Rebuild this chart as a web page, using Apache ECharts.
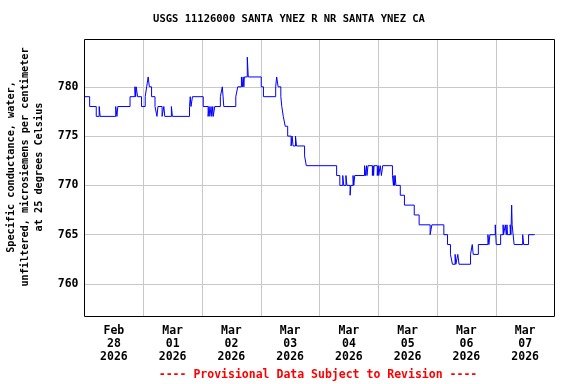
<!DOCTYPE html>
<html>
<head>
<meta charset="utf-8">
<script src="https://cdn.jsdelivr.net/npm/echarts@6/dist/echarts.min.js"></script>
<style>
html,body{margin:0;padding:0;background:#fff;}
#chart{width:576px;height:384px;}
</style>
</head>
<body>
<div id="chart"></div>
<script>
// Hours since 2026-02-28 00:00 at which the reading changes
const hours = [
  0, 2.1, 4.8, 6.0, 6.4, 12.75, 13.25, 13.6, 18.6, 20.6, 20.9, 21.1, 21.7, 23.3,
  24.8, 25.4, 26.0, 26.5, 27.4, 28.8, 29.6, 30.0, 31.7, 32.4, 32.8, 35.5, 35.9,
  42.9, 43.2, 43.5, 44.1, 48.5, 50.5, 50.9, 51.2, 51.7, 52.0, 52.4, 52.6, 53.2,
  55.5, 56.3, 56.9, 61.8, 62.6, 64.1, 64.5, 64.8, 65.1, 65.3, 66.5, 66.7, 66.9,
  72.2, 73.1, 78.1, 78.5, 79.1, 80.2, 80.6, 81.2, 82.0, 83.0, 84.4, 84.8, 85.2,
  86.2, 86.6, 89.9, 90.6, 103.0, 104.3, 105.5, 105.9, 106.8, 107.2, 108.5, 108.8,
  109.7, 110.0, 110.4, 114.4, 114.8, 115.2, 115.4, 115.8, 117.6, 117.9, 118.1,
  118.3, 119.6, 120.0, 120.2, 120.8, 121.3, 121.8, 125.8, 126.2, 126.4, 126.6,
  126.9, 127.2, 129.0, 130.7, 134.7, 136.7, 141.2, 141.9, 146.8, 148.3, 149.5,
  150.3, 151.4, 151.7, 152.5, 153.0, 157.7, 158.4, 158.8, 160.9, 164.8, 165.2,
  165.6, 167.8, 168.0, 168.2, 170.0, 171.0, 171.2, 171.9, 172.3, 172.6, 172.8,
  173.9, 174.2, 174.5, 174.7, 175.5, 179.0, 179.4, 181.4, 183.9
];
// Specific conductance (uS/cm at 25 C)
const conductance = [
  779, 778, 777, 778, 777, 778, 777, 778, 779, 780, 779, 780, 779, 778,
  779, 780, 781, 780, 779, 778, 777, 778, 777, 778, 777, 778, 777,
  778, 779, 778, 779, 778, 777, 778, 777, 778, 777, 778, 777, 778,
  779, 780, 778, 779, 780, 781, 780, 781, 780, 781, 783, 782, 781,
  780, 779, 780, 781, 780, 779, 778, 777, 776, 775, 774, 775, 774,
  775, 774, 773, 772, 771, 770, 771, 770, 771, 770, 769, 770,
  771, 770, 771, 772, 771, 772, 771, 772, 771, 772, 771,
  772, 771, 772, 771, 772, 771, 772, 771, 770, 771, 770,
  771, 770, 769, 768, 767, 766, 765, 766, 765, 764, 763,
  762, 763, 762, 763, 762, 763, 764, 763, 764, 765, 764,
  765, 766, 765, 764, 765, 766, 765, 766, 765, 766, 765,
  766, 765, 768, 766, 764, 765, 764, 765, 765
];
const dayLabels = ['Feb\n28\n2026', 'Mar\n01\n2026', 'Mar\n02\n2026', 'Mar\n03\n2026',
                   'Mar\n04\n2026', 'Mar\n05\n2026', 'Mar\n06\n2026', 'Mar\n07\n2026'];
const titleText = 'USGS 11126000 SANTA YNEZ R NR SANTA YNEZ CA';
const yName = 'Specific conductance, water,\nunfiltered, microsiemens per centimeter\nat 25 degrees Celsius';
const footer = '---- Provisional Data Subject to Revision ----';

const mono = '"DejaVu Sans Mono", "Liberation Mono", monospace';
const chart = echarts.init(document.getElementById('chart'), null, {renderer: 'canvas'});
chart.setOption({
  animation: false,
  backgroundColor: '#fff',
  grid: {left: 84.5, right: 21.5, top: 39.5, bottom: 67.5, show: true, z: 10, borderColor: '#000', borderWidth: 1, backgroundColor: 'transparent'},
  xAxis: [
    {
      type: 'value', min: 0, max: 192, interval: 24,
      axisLine: {show: false}, axisTick: {show: false}, axisLabel: {show: false},
      splitLine: {show: true, showMinLine: false, showMaxLine: false, lineStyle: {color: '#c8c8c8', width: 1}}
    },
    {
      type: 'category', data: dayLabels, boundaryGap: true, position: 'bottom',
      axisLine: {show: false}, axisTick: {show: false}, splitLine: {show: false},
      axisLabel: {interval: 0, margin: 8, color: '#000', fontFamily: mono, fontWeight: 'bold', fontSize: 11.5, lineHeight: 13}
    }
  ],
  yAxis: {
    type: 'value', min: 756.7, max: 784.8,
    axisLine: {show: false}, axisTick: {show: false},
    axisLabel: {margin: 6, color: '#000', fontFamily: mono, fontWeight: 'bold', fontSize: 11.5, showMinLabel: false, showMaxLabel: false},
    splitLine: {show: true, showMinLine: false, showMaxLine: false, lineStyle: {color: '#c8c8c8', width: 1}}
  },
  series: [{
    type: 'line', xAxisIndex: 0, step: 'end', showSymbol: false,
    data: hours.map((h, i) => [h, conductance[i]]),
    lineStyle: {color: '#0000ff', width: 1},
    itemStyle: {color: '#0000ff'}
  }],
  graphic: [
    {type: 'text', x: 289, y: 19, style: {text: titleText, textAlign: 'center', textVerticalAlign: 'middle', fill: '#000', font: 'bold 10.5px ' + mono}},
    {type: 'text', x: 25, y: 167, rotation: Math.PI / 2, style: {text: yName, textAlign: 'center', textVerticalAlign: 'middle', fill: '#000', font: 'bold 10.2px ' + mono, lineHeight: 14}},
    {type: 'text', x: 318, y: 375, style: {text: footer, textAlign: 'center', textVerticalAlign: 'middle', fill: '#ff0000', font: 'bold 11.5px ' + mono}}
  ]
});
</script>
</body>
</html>
